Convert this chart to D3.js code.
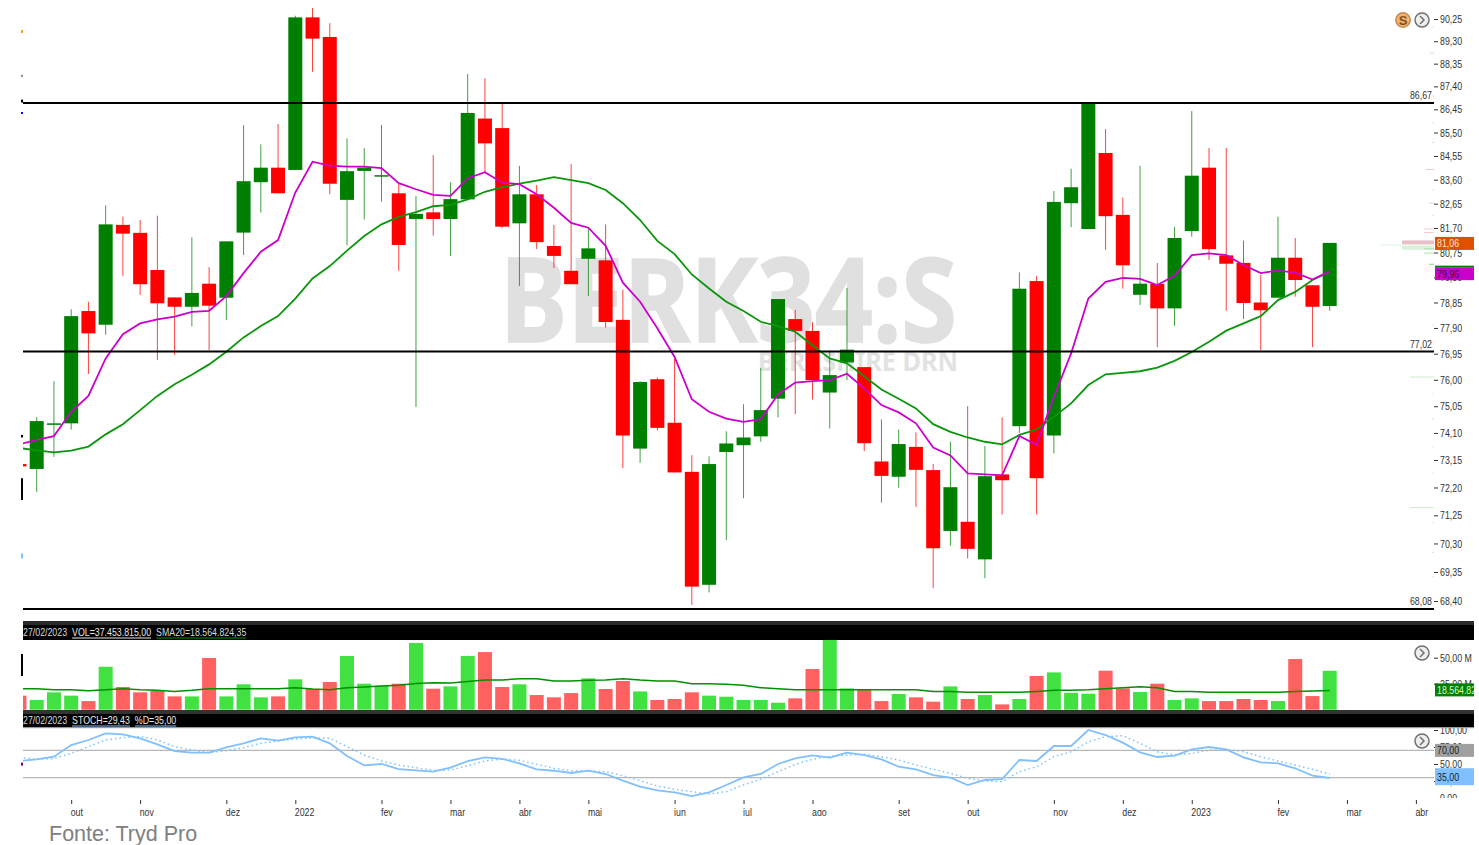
<!DOCTYPE html>
<html>
<head>
<meta charset="utf-8">
<style>
  html, body { margin: 0; padding: 0; background: #fff; overflow: hidden; }
  svg { display: block; }
  text { font-family: "Liberation Sans", sans-serif; }
</style>
<script src="https://cdn.jsdelivr.net/npm/d3@7"></script>
</head>
<body>
<div id="chart"></div>
<script>
// first entry is the half hidden candle cut by the left edge
var opens = [73.01,72.84,74.40,74.44,78.53,78.02,81.82,81.51,80.08,79.04,78.69,79.56,79.03,81.52,83.50,84.08,83.99,90.32,89.48,82.80,83.95,83.75,83.06,82.05,82.31,82.05,82.82,86.07,85.68,81.88,83.02,81.00,80.05,80.51,80.45,78.20,73.55,76.02,74.46,72.74,68.93,73.43,73.67,73.98,75.32,78.23,77.79,75.54,76.63,76.46,73.10,72.57,73.61,72.80,70.72,71.03,69.77,72.65,74.34,79.66,74.01,82.67,81.66,84.67,82.21,79.14,79.55,78.63,81.58,84.08,80.64,80.35,78.85,79.03,80.55,79.50,78.72];
var highs = [73.10,74.66,75.95,78.60,78.88,82.58,82.14,82.01,82.18,79.04,81.34,80.19,81.18,85.80,85.02,85.85,90.39,90.72,90.07,85.26,84.87,85.81,83.48,82.95,84.59,83.50,87.92,87.74,86.72,84.15,83.39,81.82,84.22,81.69,81.84,79.33,75.95,76.08,76.78,73.32,73.28,74.16,75.12,76.43,78.98,78.57,78.12,77.08,79.40,76.46,74.58,74.22,74.12,73.01,73.79,75.05,73.64,74.65,79.99,79.85,83.15,84.04,86.72,85.64,82.89,84.15,80.35,81.74,86.38,84.87,84.87,81.21,79.89,82.14,81.31,79.50,81.12];
var lows = [72.85,72.05,73.26,74.22,76.21,77.65,79.86,79.14,76.72,76.91,77.96,77.08,78.20,80.65,82.30,83.06,83.99,88.01,83.02,81.03,82.03,82.73,80.05,75.02,81.40,80.62,82.80,83.91,81.71,79.47,80.88,80.16,79.54,79.09,77.91,72.87,73.05,74.19,72.72,68.27,68.68,70.41,71.83,73.79,74.65,74.77,75.29,74.26,75.99,73.46,71.68,72.19,71.54,68.82,70.22,69.80,69.15,71.28,74.10,71.28,73.38,81.73,81.66,80.85,79.37,78.76,77.19,77.98,81.36,80.46,78.54,78.23,77.08,79.03,79.07,77.19,78.54];
var closes = [72.93,74.52,74.44,78.34,77.70,81.84,81.48,79.54,78.82,78.69,79.21,78.73,81.18,83.54,84.08,83.06,90.32,89.41,83.44,83.94,84.08,83.78,81.04,82.25,82.05,82.83,86.30,85.06,81.75,83.02,81.15,80.62,79.54,80.91,78.12,74.01,75.92,74.28,72.72,68.87,73.01,73.73,73.94,74.91,78.98,77.79,75.99,76.17,77.10,73.74,72.60,73.71,72.81,70.14,72.21,70.12,72.59,72.45,79.37,72.52,82.72,83.30,86.72,82.16,80.26,79.56,78.63,81.31,83.76,80.88,80.32,78.83,78.56,80.55,79.70,78.69,81.12];

var maFast = [73.70,73.86,73.99,74.85,75.42,76.78,77.67,78.07,78.22,78.32,78.50,78.54,79.09,79.96,80.78,81.23,83.09,84.32,84.16,84.12,84.12,84.06,83.46,83.22,83.00,82.96,83.66,83.90,83.48,83.42,83.02,82.49,81.90,81.71,81.01,79.60,78.88,77.89,76.83,75.30,74.85,74.61,74.49,74.59,75.47,75.90,75.95,75.99,76.22,75.69,75.09,74.83,74.44,73.59,73.31,72.69,72.65,72.62,73.99,73.68,75.38,76.96,79.00,79.63,79.78,79.74,79.51,79.86,80.65,80.72,80.65,80.27,79.96,80.06,79.98,79.72,80.03];
var maSlow = [73.57,73.49,73.42,73.48,73.62,74.05,74.41,74.91,75.42,75.84,76.18,76.56,77.02,77.55,77.97,78.34,79.00,79.76,80.23,80.82,81.39,81.84,82.13,82.32,82.55,82.60,82.82,83.12,83.30,83.44,83.56,83.70,83.58,83.46,83.19,82.67,82.01,81.20,80.69,79.91,79.38,78.88,78.53,78.13,77.97,77.76,77.26,76.78,76.60,76.13,75.65,75.32,74.97,74.41,74.14,73.94,73.79,73.70,74.03,74.22,74.67,75.15,75.81,76.20,76.25,76.31,76.44,76.69,77.01,77.39,77.80,78.07,78.34,78.94,79.25,79.70,80.01];

// volume in millions
var volume = [13.5,9.3,16.7,13.5,8.3,41.3,21.8,16.7,18.6,12.8,12.8,49.7,12.8,24.4,11.9,12.8,29.2,19.9,26.6,51.6,25,23.1,25,64.1,20.2,22.4,51.6,55.4,21.8,24.4,14.1,11.9,16,30.1,19.9,27.6,17.6,9.3,10.3,16.7,13.5,12.5,9.3,9.3,6.7,10.9,39.1,70,20.5,19.2,8.3,15.1,11.9,7.7,22.4,10.3,14.1,5.1,10.3,32.4,35.9,16.3,15.4,37.5,20.5,17,25,9.3,10.9,8.3,8.3,10.3,9.3,8.3,48.7,13.1,37.45];
var volSma = [20.2,20.2,19.2,19.2,18.3,19.2,20.2,19.2,18.6,17.6,18.6,20.2,20.2,20.2,20.2,20.2,21.2,19.9,19.2,21.2,21.8,22.8,23.4,25.3,26,25.6,27.2,28.5,28.5,29.8,29.8,27.6,27.6,28.2,28.5,29.8,28.5,27.6,27.6,25,25,24.4,23.4,21.2,20.2,19.2,19.2,19.2,19.2,19.2,19.2,19.2,19.2,17.6,17.6,16.7,16.7,16.7,16.7,17.6,18.6,18.6,19.2,20.2,21.2,22.1,21.2,17.6,17.6,16.7,16.7,16.7,16.7,16.7,17.6,18,18.56];

var stochK = [54.4,56.9,60.8,77.9,85.3,95.1,93.6,87.8,78.9,69.1,66.7,66.7,74.5,80.4,87.8,84.3,89.2,90.2,80.4,61.8,48,50,42.6,40.7,38.7,44.6,54.4,59.8,57.4,51,42.2,40.1,36.8,40.1,35.3,25.5,16.6,11.3,8.4,2.9,8.4,19.1,30.4,35.3,50,58.4,62.8,59.3,66.7,63.2,56.9,46,42.2,33.8,29.9,19.1,26.5,27.9,55.9,54.4,76.5,76.5,100,92.6,81.4,67.2,60.3,62.2,71.6,75,71.6,59.8,52.5,51,43.7,32.8,29.43];
var stochD = [59.8,56.9,58,65.7,75.5,85.3,88.7,90.7,85.3,75.5,70.6,66.7,69.6,74,80.4,83.8,86.8,88.2,88,75.5,63.2,54.4,48.5,44.6,40.7,41.2,47.5,54.4,57.4,55.4,49.5,43.7,40.1,39.7,38.7,32.8,25.5,17.6,12.8,9.3,5.9,9.3,19.1,27.9,38.7,49.5,56.9,61.3,62.8,64.3,60.7,55.9,48.5,42.2,36.3,29,25,24,38.7,46,60.7,68,82.8,90.2,91.6,80.4,68,63.2,65.7,70.1,71.6,68,60.7,54.4,48.5,42.2,35];

var priceTicks = [90.25,89.30,88.35,87.40,86.45,85.50,84.55,83.60,82.65,81.70,80.75,79.80,78.85,77.90,76.95,76.00,75.05,74.10,73.15,72.20,71.25,70.30,69.35,68.40];
var volTicks = [50,25];
var stochTicks = [100,75,50,25,0];
var stochBands = [70,30];

var levelPrices = [86.71,77.03,68.14];
var levelLabels = ["86,67","77,02","68,08"];

// month labels sit on the first candle of the month
var monthIndex = [3,7,12,16,21,25,29,33,38,42,46,51,55,60,64,68,73,77,81];
var monthLabels = ["out","nov","dez","2022","fev","mar","abr","mai","jun","jul","ago","set","out","nov","dez","2023","fev","mar","abr"];

// faint volume at price histogram beside the axis
var profilePrices = [88.80,84.01,82.67,81.66,81.52,81.14,81.04,80.93,80.89,80.72,80.30,76.10,71.52,89.9,87.0,85.9,85.1,83.2,82.2,79.0,78.0,77.4,75.5,74.6,73.6,72.7,71.0,70.0,69.2];
var profileSizes = [4,8,5,10,10,32,54,32,10,10,5,24,24,1.5,1.5,1.5,2,1.5,1.5,1.5,1.5,1.5,1.5,2,1.5,1.5,1.5,2,1.5];
var profileThick = [1,1,1,1,1,4,1,4,1,2,1,1,1,1,1,1,1,1,1,1,1,1,1,1,1,1,1,1,1];
var profileColors = ["#eccdd4","#e6c4cc","#eccdd4","#eccdd4","#eccdd4","#e8bec8","#dff3df","#dcf0dc","#a8d8a8","#d5ecd5","#90d090","#cdeccd","#cdeccd","#eccdd4","#eccdd4","#eccdd4","#eccdd4","#eccdd4","#eccdd4","#cdeccd","#cdeccd","#cdeccd","#cdeccd","#cdeccd","#cdeccd","#cdeccd","#cdeccd","#cdeccd","#cdeccd"];

// scraps left of the plot edge
var edgeTop = [89.78,87.88,86.85,86.34,74.03,72.52,69.97];
var edgeBottom = [89.65,87.80,86.73,86.26,73.94,71.77,69.80];
var edgeColors = ["#ffa500","#808080","#000","#0000ff","#000","#000","#80c0ff"];

var headerVol = [
  {t: "27/02/2023", fill: "#d8d8d8"},
  {t: "VOL=37.453.815,00", fill: "#e8e8e8", line: "#e8e8e8"},
  {t: "SMA20=18.564.824,35", fill: "#d8d8d8", line: "#009000"}
];
var headerStoch = [
  {t: "27/02/2023", fill: "#d8d8d8"},
  {t: "STOCH=29,43", fill: "#e8e8e8", line: "#80c0ff"},
  {t: "%D=35,00", fill: "#e8e8e8", line: "#80c0ff"}
];

var plotLeft = 23, axisX = 1434, rightEdge = 1474;
var SQUEEZE = 0.8; // the screenshot font is much narrower than anything installed

var svg = d3.select("#chart").append("svg").attr("width", 1479).attr("height", 845);
var defs = svg.append("defs");
function addClip(id, x, y, w, h) {
  defs.append("clipPath").attr("id", id).append("rect").attr("x", x).attr("y", y).attr("width", w).attr("height", h);
}
addClip("clipPrice", plotLeft, 0, axisX - plotLeft, 621);
addClip("clipVol", plotLeft, 640, axisX - plotLeft, 70);
addClip("clipStoch", plotLeft, 728, axisX - plotLeft, 72);
addClip("clipRight", axisX, 640, rightEdge - axisX, 70);
addClip("clipRightStoch", axisX, 728, rightEdge - axisX, 70);
addClip("clipMonths", 0, 798, rightEdge, 18);

var x = d3.scaleLinear().domain([0, 81]).range([19.46, 1415.9]);
var y = d3.scaleLog().domain([68.40, 90.25]).range([601, 19]);
var yVol = d3.scaleLinear().domain([0, 50]).range([709.7, 657.7]);
var yStoch = d3.scaleLinear().domain([0, 100]).range([798, 730]);
var profileX = d3.scaleLinear().domain([0, 54]).range([axisX, axisX - 54]);

var numFmt = d3.formatLocale({decimal: ",", thousands: ".", grouping: [3], currency: ["R$", ""]}).format(".2f");
var GREEN = "#008000", RED = "#ff0000";
var idx = d3.range(opens.length);
function isUp(i) { return closes[i] >= opens[i]; }

function narrow(sel) {
  sel.each(function () {
    d3.select(this).attr("textLength", this.getComputedTextLength() * SQUEEZE).attr("lengthAdjust", "spacingAndGlyphs");
  });
}

function styleAxis(g) {
  g.select(".domain").remove();
  g.selectAll("line").attr("stroke", "#333");
  g.selectAll("text").style("font-family", null).style("font-size", "11px").attr("fill", "#333");
  narrow(g.selectAll("text"));
}

// watermark
svg.append("text").attr("x", 500).attr("y", 342).attr("textLength", 457).attr("lengthAdjust", "spacingAndGlyphs")
  .style("font-family", "'Noto Sans', sans-serif").style("font-weight", 700).style("font-size", "116px")
  .attr("fill", "#e0e0e0").attr("stroke", "#e0e0e0").attr("stroke-width", 1.5).text("BERK34:S");
svg.append("text").attr("x", 758).attr("y", 371).attr("textLength", 200).attr("lengthAdjust", "spacingAndGlyphs")
  .style("font-family", "'Noto Sans', sans-serif").style("font-weight", 700).style("font-size", "27px").attr("fill", "#e2e2e2").text("BERKSHIRE DRN");

// volume profile
svg.append("g").selectAll("rect").data(profilePrices).enter().append("rect")
  .attr("x", function (d, i) { return profileX(profileSizes[i]); })
  .attr("y", function (d, i) { return y(d) - profileThick[i] / 2; })
  .attr("width", function (d, i) { return axisX - profileX(profileSizes[i]); })
  .attr("height", function (d, i) { return profileThick[i]; })
  .attr("fill", function (d, i) { return profileColors[i]; });

// candles
var pricePane = svg.append("g").attr("clip-path", "url(#clipPrice)");
pricePane.selectAll(".wick").data(idx).enter().append("line").attr("class", "wick")
  .attr("x1", function (i) { return x(i); }).attr("x2", function (i) { return x(i); })
  .attr("y1", function (i) { return y(highs[i]); }).attr("y2", function (i) { return y(lows[i]); })
  .attr("stroke", function (i) { return isUp(i) ? GREEN : RED; }).attr("stroke-width", 1).attr("stroke-opacity", 0.75);
pricePane.selectAll(".body").data(idx).enter().append("rect").attr("class", "body")
  .attr("x", function (i) { return x(i) - 7; }).attr("width", 14)
  .attr("y", function (i) { return y(Math.max(opens[i], closes[i])); })
  .attr("height", function (i) { return Math.max(1.5, Math.abs(y(opens[i]) - y(closes[i]))); })
  .attr("fill", function (i) { return isUp(i) ? GREEN : RED; });

// support / resistance levels
svg.append("g").selectAll("line").data(levelPrices).enter().append("line")
  .attr("x1", plotLeft).attr("x2", axisX)
  .attr("y1", function (d) { return y(d); }).attr("y2", function (d) { return y(d); })
  .attr("stroke", "#000").attr("stroke-width", 2);
var levelText = svg.append("g").selectAll("text").data(levelPrices).enter().append("text")
  .attr("x", axisX - 2).attr("y", function (d) { return y(d) - 4; }).attr("text-anchor", "end")
  .style("font-size", "11px").attr("fill", "#333").text(function (d, i) { return levelLabels[i]; });
narrow(levelText);

// moving averages
var priceLine = d3.line().x(function (d, i) { return x(i); }).y(function (d) { return y(d); });
pricePane.append("path").attr("d", priceLine(maSlow)).attr("fill", "none").attr("stroke", "#0a960a").attr("stroke-width", 1.8);
pricePane.append("path").attr("d", priceLine(maFast)).attr("fill", "none").attr("stroke", "#cc00cc").attr("stroke-width", 1.8);

// edge scraps
svg.append("g").selectAll("rect").data(edgeTop).enter().append("rect")
  .attr("x", 21).attr("width", 2)
  .attr("y", function (d) { return y(d); })
  .attr("height", function (d, i) { return y(edgeBottom[i]) - y(d); })
  .attr("fill", function (d, i) { return edgeColors[i]; });

// price axis
var priceAxis = svg.append("g").attr("transform", "translate(" + axisX + ",0)")
  .call(d3.axisRight(y).tickValues(priceTicks).tickFormat(numFmt).tickSize(4).tickPadding(2));
styleAxis(priceAxis);

// header bands
function band(yTop, h, color) {
  svg.append("rect").attr("x", plotLeft).attr("y", yTop).attr("width", rightEdge - plotLeft).attr("height", h).attr("fill", color);
}
band(621, 4, "#2a2a2a");
band(625, 15, "#000");
band(710, 4, "#333");
band(714, 13, "#000");
band(727, 1.2, "#999");

function headerRow(parts, baseY) {
  var px = plotLeft;
  parts.forEach(function (p) {
    var t = svg.append("text").attr("x", px).attr("y", baseY).style("font-size", "11px").attr("fill", p.fill).text(p.t);
    var w = t.node().getComputedTextLength() * SQUEEZE;
    t.attr("textLength", w).attr("lengthAdjust", "spacingAndGlyphs");
    if (p.line) {
      svg.append("line").attr("x1", px).attr("x2", px + w).attr("y1", baseY + 2).attr("y2", baseY + 2).attr("stroke", p.line).attr("stroke-width", 1);
    }
    px += w + 5;
  });
}
headerRow(headerVol, 636);
headerRow(headerStoch, 724);

// volume pane
var volPane = svg.append("g").attr("clip-path", "url(#clipVol)");
volPane.selectAll("rect").data(volume).enter().append("rect")
  .attr("x", function (d, i) { return x(i) - 7; }).attr("width", 14)
  .attr("y", function (d) { return yVol(d); })
  .attr("height", function (d) { return yVol(0) - yVol(d); })
  .attr("fill", function (d, i) { return isUp(i) ? "#42e142" : "#ff6060"; });
volPane.append("path")
  .attr("d", d3.line().x(function (d, i) { return x(i); }).y(function (d) { return yVol(d); })(volSma))
  .attr("fill", "none").attr("stroke", "#009000").attr("stroke-width", 1.5);
svg.append("rect").attr("x", 21).attr("width", 2).attr("y", yVol(53.6)).attr("height", yVol(32.4) - yVol(53.6)).attr("fill", "#000");

var volAxis = svg.append("g").attr("clip-path", "url(#clipRight)").append("g").attr("transform", "translate(" + axisX + ",0)")
  .call(d3.axisRight(yVol).tickValues(volTicks).tickFormat(function (d) { return numFmt(d) + " M"; }).tickSize(4).tickPadding(2));
styleAxis(volAxis);

// stochastic pane
var stochPane = svg.append("g").attr("clip-path", "url(#clipStoch)");
stochPane.selectAll("line").data(stochBands).enter().append("line")
  .attr("x1", plotLeft).attr("x2", axisX)
  .attr("y1", function (d) { return yStoch(d); }).attr("y2", function (d) { return yStoch(d); })
  .attr("stroke", "#b8b8b8").attr("stroke-width", 1.2);
var stochLine = d3.line().x(function (d, i) { return x(i); }).y(function (d) { return yStoch(d); });
stochPane.append("path").attr("d", stochLine(stochD)).attr("fill", "none").attr("stroke", "#80c0ff").attr("stroke-width", 1.5).attr("stroke-dasharray", "1.5 3");
stochPane.append("path").attr("d", stochLine(stochK)).attr("fill", "none").attr("stroke", "#80c0ff").attr("stroke-width", 1.8);
svg.append("rect").attr("x", 21).attr("width", 2).attr("y", yStoch(52)).attr("height", 3).attr("fill", "#800080");

var stochAxis = svg.append("g").attr("clip-path", "url(#clipRightStoch)").append("g").attr("transform", "translate(" + axisX + ",0)")
  .call(d3.axisRight(yStoch).tickValues(stochTicks).tickFormat(numFmt).tickSize(4).tickPadding(2));
styleAxis(stochAxis);

// month axis, labels are cut at the bottom in the original too
var monthAxis = svg.append("g").attr("clip-path", "url(#clipMonths)").append("g").attr("transform", "translate(0,800)")
  .call(d3.axisBottom(x).tickValues(monthIndex).tickFormat(function (d, i) { return monthLabels[i]; }).tickSize(4).tickPadding(4));
styleAxis(monthAxis);
monthAxis.selectAll("text").attr("text-anchor", "start").attr("dx", -1);

// value flags on the axis
function flag(yCenter, h, color, label, txt) {
  svg.append("rect").attr("x", axisX + 1).attr("y", yCenter - h / 2).attr("width", rightEdge - axisX - 1).attr("height", h).attr("fill", color);
  var t = svg.append("text").attr("x", axisX + 3).attr("y", yCenter + 4).style("font-size", "11px").attr("fill", txt).text(label);
  narrow(t);
}
flag(y(closes[closes.length - 1]) + 0.5, 13, "#e05000", numFmt(81.06), "#ffe8d8");
svg.append("rect").attr("x", axisX + 1).attr("y", y(79.96) - 7.5).attr("width", rightEdge - axisX - 1).attr("height", 1.5).attr("fill", "#008000");
flag(y(79.96) + 0.5, 13, "#cc00cc", numFmt(79.96), "#300030");
flag(yVol(18.56) - 0.5, 13, "#008000", "18.564.82", "#d8f8d8");
flag(yStoch(70), 13, "#a0a0a0", numFmt(70), "#222");
flag(yStoch(35) + 2.5, 17, "#80c0ff", numFmt(35), "#123");

// little round buttons
function chevronButton(cx, cy) {
  svg.append("circle").attr("cx", cx).attr("cy", cy).attr("r", 7).attr("fill", "#efefef").attr("stroke", "#707070").attr("stroke-width", 1.5);
  svg.append("path").attr("d", "M" + (cx - 2) + "," + (cy - 4) + "L" + (cx + 2) + "," + cy + "L" + (cx - 2) + "," + (cy + 4))
    .attr("fill", "none").attr("stroke", "#707070").attr("stroke-width", 1.5);
}
svg.append("circle").attr("cx", 1403).attr("cy", 20).attr("r", 7.2).attr("fill", "#f6b26b").attr("stroke", "#c88a50").attr("stroke-width", 1.5);
svg.append("text").attr("x", 1403).attr("y", 24.5).attr("text-anchor", "middle").style("font-size", "13px").style("font-weight", 700).attr("fill", "#7a5028").text("S");
chevronButton(1422, 20);
chevronButton(1422, 653);
chevronButton(1422, 741);

// source line
svg.append("text").attr("x", 49).attr("y", 841).style("font-size", "21.5px").attr("fill", "#808080").text("Fonte: Tryd Pro");
</script>
</body>
</html>
